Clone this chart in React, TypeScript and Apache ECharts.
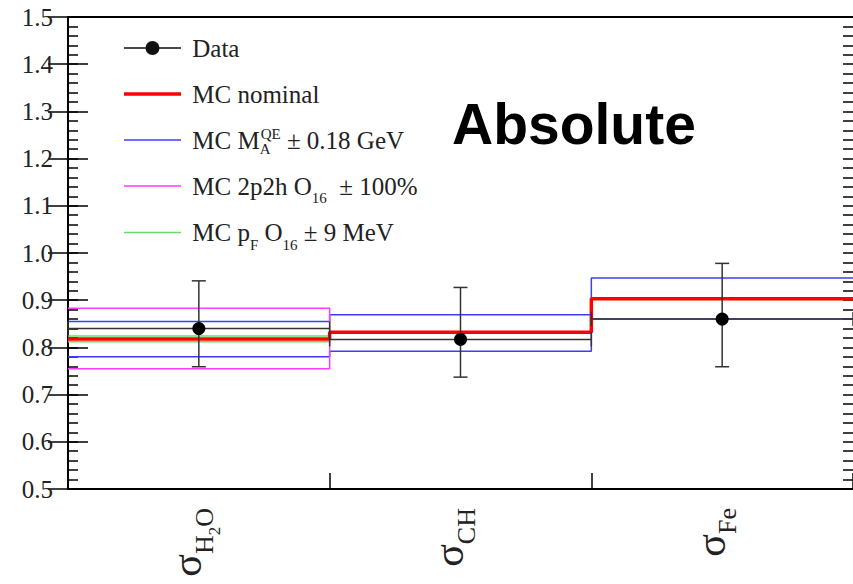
import React, { useEffect, useRef } from 'react';
import * as echarts from 'echarts';

// ---- data ----
const binEdges = [0, 1, 2, 3];
const categories = ['H2O', 'CH', 'Fe'];
const dataValues = [0.84, 0.817, 0.86];
const dataErrLow = [0.759, 0.737, 0.759];
const dataErrHigh = [0.941, 0.927, 0.978];
const mcNominal = [0.818, 0.832, 0.903];
const maUp = [0.855, 0.869, 0.947];
const maDown = [0.78, 0.792, 0.86];
const twoP2hUp = [0.883, 0.832, 0.903];
const twoP2hDown = [0.755, 0.832, 0.903];
const pfUp = [0.824, 0.832, 0.903];
const pfDown = [0.812, 0.832, 0.903];
const yMin = 0.5;
const yMax = 1.5;
const yStep = 0.1;
const yMinorStep = 0.02;

const SERIF = '"Liberation Serif", "Times New Roman", serif';
const SANS = '"Liberation Sans", Arial, sans-serif';

const BLUE = '#3c3cff';
const MAGENTA = '#ff3cff';
const GREEN = '#66dd66';
const RED = '#ff0000';

const stepData = (vals: number[]) =>
  binEdges.map((e, i) => [e, vals[Math.min(i, vals.length - 1)]]);

const legendText: Record<string, string> = {
  Data: ' Data',
  'MC nominal': ' MC nominal',
  ma: ' MC M{subA|A}{sup|QE}{t| ± 0.18 GeV}',
  '2p2h': ' MC 2p2h O{sub|16}{t|  ± 100%}',
  pf: ' MC p{sub|F} O{sub|16}{t| ± 9 MeV}',
};

const xLabelText: Record<string, string> = {
  H2O: '{z| }{s|σ}{b|H}{c|2}{b|O}',
  CH: '{z| }{s|σ}{b|CH}',
  Fe: '{z| }{s|σ}{b|Fe}',
};

const dataIcon =
  'path://M0,6.25 L57,6.25 L57,7.75 L0,7.75 Z M21.5,7 A7,7 0 1 1 35.5,7 A7,7 0 1 1 21.5,7 Z';
const thinIcon = 'path://M0,0 L57,0 L57,1.5 L0,1.5 Z';
const thickIcon = 'path://M0,0 L57,0 L57,3.5 L0,3.5 Z';

function stepSeries(name: string, vals: number[], color: string, width: number, z: number) {
  return {
    name,
    type: 'line',
    step: 'end',
    symbol: 'none',
    data: stepData(vals),
    lineStyle: { color, width },
    itemStyle: { color },
    z,
    silent: true,
  };
}

export default function App() {
  const ref = useRef<HTMLDivElement>(null);
  useEffect(() => {
    document.body.style.margin = '0';
    if (!ref.current) return;
    const chart = echarts.init(ref.current, null, { renderer: 'svg' });
    const customData = dataValues.map((v, i) => [
      i + 0.5,
      v,
      dataErrLow[i],
      dataErrHigh[i],
      binEdges[i],
      binEdges[i + 1],
    ]);
    const majorAxis = {
      type: 'value',
      min: yMin,
      max: yMax,
      interval: yStep,
      axisLine: { show: true, lineStyle: { color: '#000', width: 2 } },
      axisTick: { show: true, inside: true, length: 20, lineStyle: { color: '#000', width: 1.5 } },
      splitLine: { show: false },
    };
    const minorAxis = {
      type: 'value',
      min: yMin,
      max: yMax,
      interval: yMinorStep,
      axisLine: { show: false },
      axisTick: { show: true, inside: true, length: 10, lineStyle: { color: '#000', width: 1.5 } },
      axisLabel: { show: false },
      splitLine: { show: false },
    };
    const option: any = {
      animation: false,
      backgroundColor: '#fff',
      grid: { left: 68, top: 17, right: -4, bottom: 95, containLabel: false },
      xAxis: [
        {
          type: 'value',
          min: 0,
          max: 3,
          interval: 1,
          position: 'bottom',
          axisLine: { show: true, lineStyle: { color: '#000', width: 2 } },
          axisTick: { show: true, inside: true, length: 16, lineStyle: { color: '#000', width: 1.5 } },
          axisLabel: { show: false },
          splitLine: { show: false },
        },
        {
          type: 'category',
          data: categories,
          position: 'bottom',
          axisLine: { show: false },
          axisTick: { show: false },
          splitLine: { show: false },
          axisLabel: {
            rotate: 90,
            margin: 19,
            color: '#222',
            fontFamily: SERIF,
            formatter: (v: string) => xLabelText[v],
            rich: {
              z: { fontSize: 10, lineHeight: 40, height: 40, fontFamily: SERIF },
              s: { fontSize: 42, lineHeight: 17, height: 17, verticalAlign: 'top', fontFamily: SERIF, color: '#222' },
              b: { fontSize: 26, lineHeight: 29, height: 29, verticalAlign: 'bottom', fontFamily: SERIF, color: '#222' },
              c: { fontSize: 17, lineHeight: 9, height: 9, verticalAlign: 'bottom', fontFamily: SERIF, color: '#222' },
            },
          },
        },
        {
          type: 'value',
          min: 0,
          max: 3,
          position: 'top',
          axisLine: { show: true, lineStyle: { color: '#000', width: 2 } },
          axisTick: { show: false },
          axisLabel: { show: false },
          splitLine: { show: false },
        },
      ],
      yAxis: [
        {
          ...majorAxis,
          position: 'left',
          axisLabel: {
            margin: 15,
            fontFamily: SERIF,
            fontSize: 25,
            color: '#222',
            formatter: (v: number) => v.toFixed(1),
          },
        },
        { ...majorAxis, position: 'right', axisLabel: { show: false } },
        { ...minorAxis, position: 'left' },
        { ...minorAxis, position: 'right' },
      ],
      legend: {
        orient: 'vertical',
        left: 124,
        top: 29,
        padding: 0,
        itemWidth: 57,
        itemHeight: 14,
        itemGap: 8,
        symbolKeepAspect: true,
        selectedMode: false,
        data: [
          { name: 'Data', icon: dataIcon, itemStyle: { color: '#111' } },
          { name: 'MC nominal', icon: thickIcon, itemStyle: { color: RED } },
          { name: 'ma', icon: thinIcon, itemStyle: { color: BLUE } },
          { name: '2p2h', icon: thinIcon, itemStyle: { color: MAGENTA } },
          { name: 'pf', icon: thinIcon, itemStyle: { color: GREEN } },
        ],
        formatter: (n: string) => legendText[n],
        textStyle: {
          fontFamily: SERIF,
          fontSize: 25,
          color: '#222',
          lineHeight: 38,
          rich: {
            t: { fontFamily: SERIF, fontSize: 25, color: '#222', lineHeight: 38 },
            sub: { fontFamily: SERIF, fontSize: 15, color: '#222', lineHeight: 14, height: 14, verticalAlign: 'bottom' },
            subA: { fontFamily: SERIF, fontSize: 15, color: '#222', lineHeight: 21, height: 21, verticalAlign: 'bottom', width: 1 },
            sup: { fontFamily: SERIF, fontSize: 15, color: '#222', lineHeight: 25, height: 25, verticalAlign: 'top' },
          },
        },
      },
      graphic: [
        {
          type: 'text',
          x: 452,
          y: 124,
          style: {
            text: 'Absolute',
            font: `bold 57px ${SANS}`,
            fill: '#000',
            verticalAlign: 'middle',
          },
        },
      ],
      series: [
        stepSeries('ma', maUp, BLUE, 1.5, 2),
        stepSeries('ma', maDown, BLUE, 1.5, 2),
        stepSeries('2p2h', twoP2hUp, MAGENTA, 1.5, 3),
        stepSeries('2p2h', twoP2hDown, MAGENTA, 1.5, 3),
        stepSeries('pf', pfUp, GREEN, 1.5, 4),
        stepSeries('pf', pfDown, GREEN, 1.5, 4),
        stepSeries('MC nominal', mcNominal, RED, 3.5, 5),
        {
          name: 'Data',
          type: 'custom',
          z: 6,
          silent: true,
          itemStyle: { color: '#111' },
          data: customData,
          encode: { x: [0, 4, 5], y: [1, 2, 3] },
          renderItem: (params: any, api: any) => {
            const xc = api.value(0);
            const v = api.value(1);
            const lo = api.value(2);
            const hi = api.value(3);
            const xl = api.value(4);
            const xr = api.value(5);
            const c = api.coord([xc, v]);
            const l = api.coord([xl, v]);
            const r = api.coord([xr, v]);
            const t = api.coord([xc, hi]);
            const b = api.coord([xc, lo]);
            const st = { stroke: '#333', lineWidth: 1.5 };
            const cap = 7;
            return {
              type: 'group',
              children: [
                { type: 'line', shape: { x1: l[0], y1: l[1], x2: r[0], y2: r[1] }, style: st },
                { type: 'line', shape: { x1: t[0], y1: t[1], x2: b[0], y2: b[1] }, style: st },
                { type: 'line', shape: { x1: t[0] - cap, y1: t[1], x2: t[0] + cap, y2: t[1] }, style: st },
                { type: 'line', shape: { x1: b[0] - cap, y1: b[1], x2: b[0] + cap, y2: b[1] }, style: st },
                { type: 'line', shape: { x1: l[0], y1: l[1] - cap, x2: l[0], y2: l[1] + cap }, style: st },
                { type: 'line', shape: { x1: r[0], y1: r[1] - cap, x2: r[0], y2: r[1] + cap }, style: st },
                { type: 'circle', shape: { cx: c[0], cy: c[1], r: 6.5 }, style: { fill: '#000' } },
              ],
            };
          },
        },
      ],
    };
    chart.setOption(option);
    return () => chart.dispose();
  }, []);
  return <div ref={ref} style={{ width: 853, height: 584 }} />;
}
